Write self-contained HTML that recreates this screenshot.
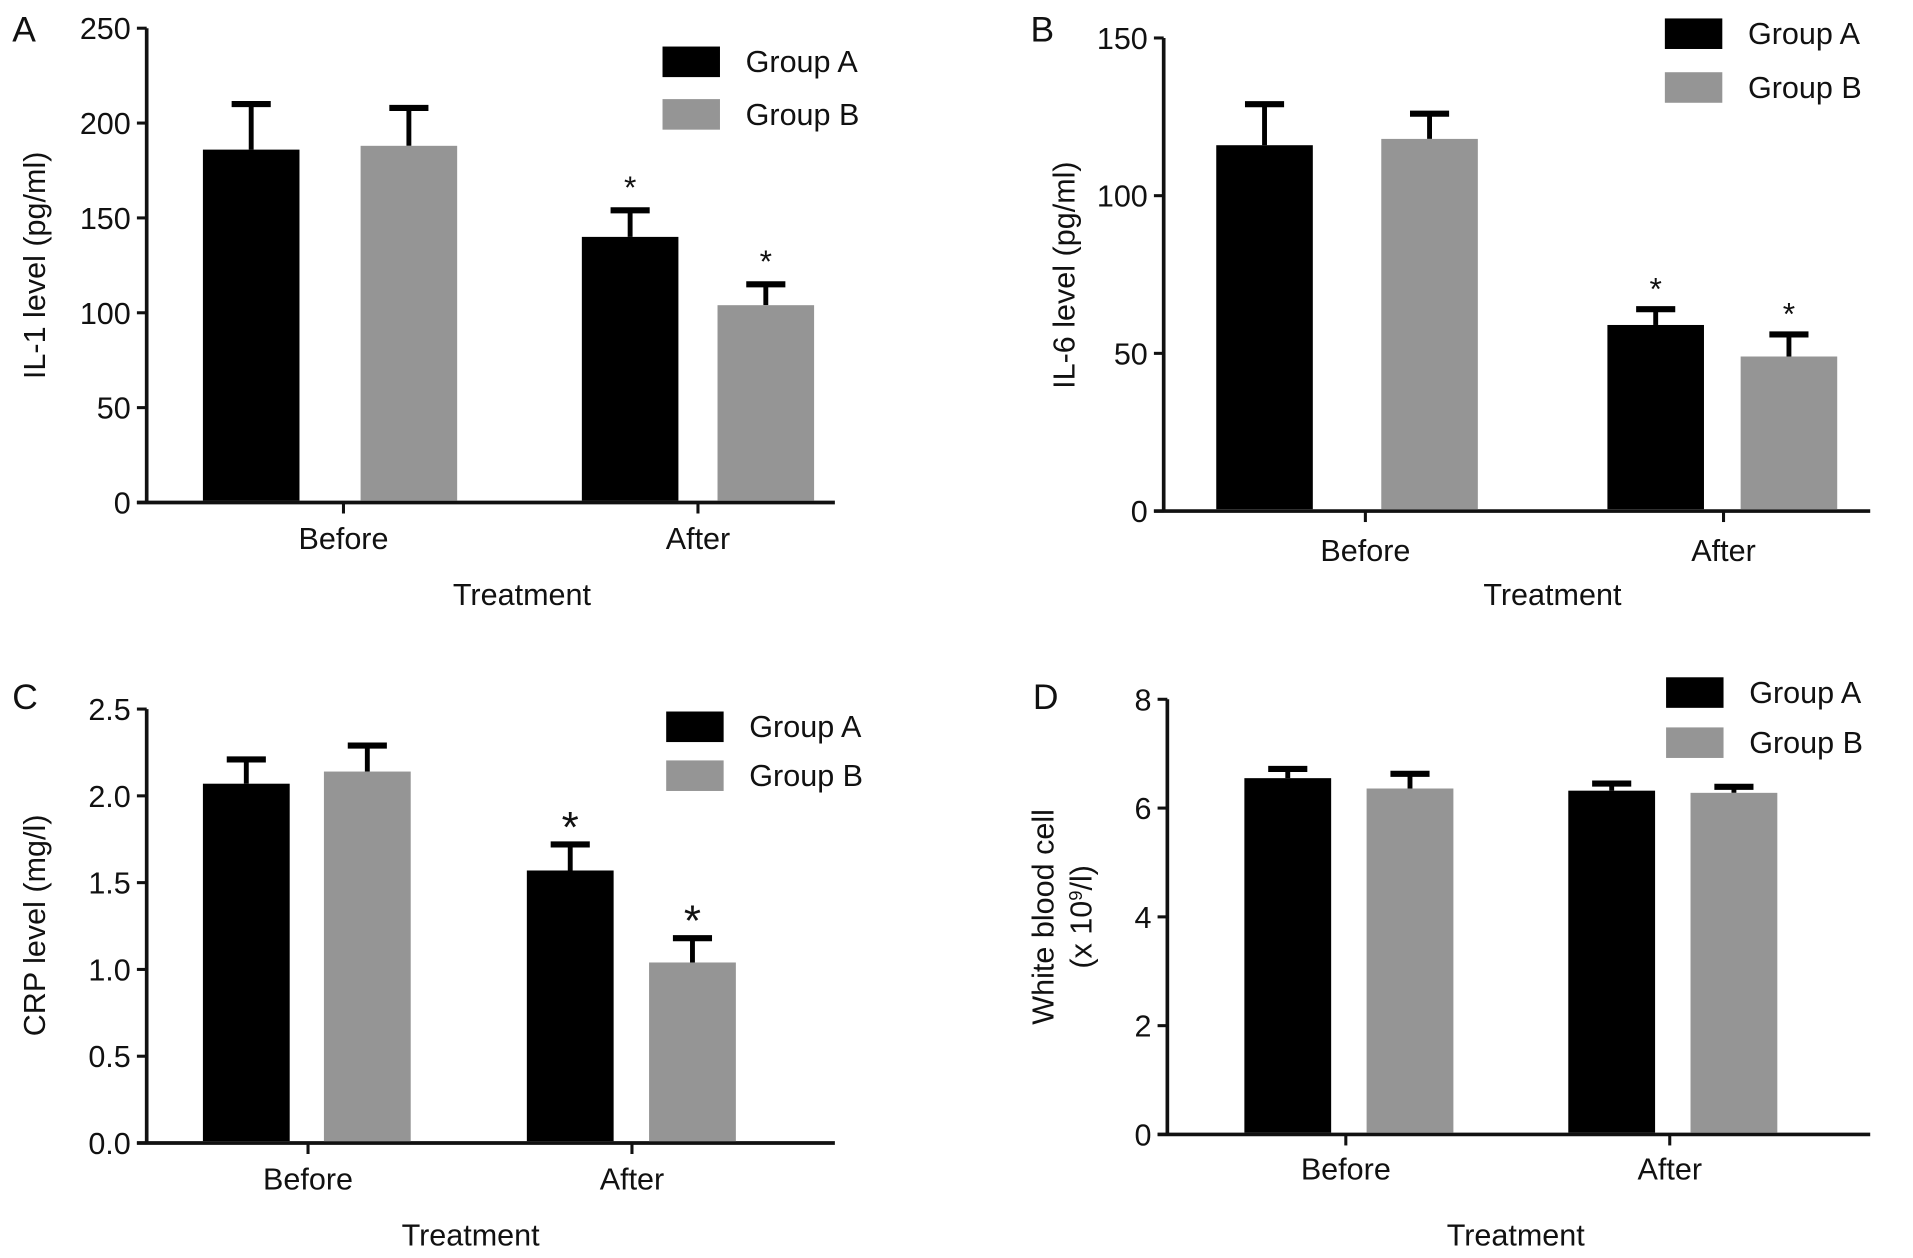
<!DOCTYPE html>
<html><head><meta charset="utf-8">
<style>
html,body{margin:0;padding:0;background:#fff;}
svg{display:block;}
text{font-family:"Liberation Sans",Arial,sans-serif;fill:#111;}
</style></head>
<body>
<svg id="fig" width="1913" height="1258" viewBox="0 0 1565 1029" xmlns="http://www.w3.org/2000/svg"></svg>
<script>
const categories = ["Before", "After"];
const seriesNames = ["Group A", "Group B"];
// Panel A: IL-1
const il1Mean = [[186, 140], [188, 104]];
const il1Err  = [[210, 154], [208, 115]];
const il1Ticks = ["0","50","100","150","200","250"];
// Panel B: IL-6
const il6Mean = [[116, 59], [118, 49]];
const il6Err  = [[129, 64], [126, 56]];
const il6Ticks = ["0","50","100","150"];
// Panel C: CRP
const crpMean = [[2.07, 1.57], [2.14, 1.04]];
const crpErr  = [[2.21, 1.72], [2.29, 1.18]];
const crpTicks = ["0.0","0.5","1.0","1.5","2.0","2.5"];
// Panel D: WBC
const wbcMean = [[6.55, 6.32], [6.36, 6.28]];
const wbcErr  = [[6.72, 6.45], [6.63, 6.39]];
const wbcTicks = ["0","2","4","6","8"];
const stars = [[false,true],[false,true]];
const starsD = [[false,false],[false,false]];

const NS = "http://www.w3.org/2000/svg";
const svg = document.getElementById("fig");
function el(tag, attrs, parent, txt){
  const e = document.createElementNS(NS, tag);
  for (const k in attrs) e.setAttribute(k, attrs[k]);
  if (txt !== undefined) e.textContent = txt;
  (parent || svg).appendChild(e);
  return e;
}
const colors = ["#000000", "#959595"];

function panel(cfg){
  const g = el("g", {});
  
  
  const yMax = parseFloat(cfg.ticks[cfg.ticks.length-1]);
  const y = v => cfg.y0 - (v / yMax) * (cfg.y0 - cfg.yTop);
  const xl = cfg.x0 - 8;
  const ya = el("line", {x1:cfg.x0, y1:cfg.yTop, x2:cfg.x0, y2:cfg.y0, stroke:"#111","stroke-width":3}, g);
  
  
  const xa = el("line", {x1:xl, y1:cfg.y0, x2:cfg.xEnd, y2:cfg.y0, stroke:"#111","stroke-width":3}, g);
  
  
  cfg.ticks.forEach(t => {
    const yy = y(parseFloat(t));
    el("line", {x1:cfg.x0-8, y1:yy, x2:cfg.x0, y2:yy, stroke:"#111","stroke-width":2.5}, g);
    const tl = el("text", {x:cfg.x0-13, y:yy+9, "text-anchor":"end","font-size":25}, g, t);
    
    
  });
  categories.forEach((c, ci) => {
    const cx = cfg.cats[ci];
    el("line", {x1:cx, y1:cfg.y0, x2:cx, y2:cfg.y0+9, stroke:"#111","stroke-width":2.5}, g);
    const cl = el("text", {x:cx, y:cfg.y0+cfg.catDy, "text-anchor":"middle","font-size":25}, g, c);
    
    
    seriesNames.forEach((s, si) => {
      const x1 = cfg.barX[ci][si], w = cfg.barW;
      const v = cfg.mean[si][ci], e = cfg.err[si][ci];
      const mid = x1 + w/2;
      const ln = el("line", {x1:mid, y1:y(e), x2:mid, y2:y(v), stroke:"#000","stroke-width":4}, g);
      
      
      const cap = el("line", {x1:mid-16, y1:y(e), x2:mid+16, y2:y(e), stroke:"#000","stroke-width":5}, g);
      
      
      const r = el("rect", {x:x1, y:y(v), width:w, height:cfg.y0 - y(v) - 1.5, fill:colors[si]}, g);
      
      
      if (cfg.stars[si][ci]) {
        const st = el("text", {x:mid, y:y(e)-cfg.starDy, "text-anchor":"middle","font-size":cfg.starSize}, g, "*");
        
        
      }
    });
  });
  seriesNames.forEach((s, si) => {
    const ly = cfg.legY[si];
    const lr = el("rect", {x:cfg.legX, y:ly-12, width:47, height:25, fill:colors[si]}, g);
    
    
    const lt = el("text", {x:cfg.legX+68, y:ly+9, "font-size":25}, g, s);
    
    
  });
  const pl = el("text", {x:cfg.letter[0], y:cfg.letter[1], "font-size":29}, g, cfg.letterText);
  
  
  const xt = el("text", {x:cfg.xTitle[0], y:cfg.xTitle[1], "text-anchor":"middle","font-size":25}, g, "Treatment");
  
  
  cfg.yTitle.forEach((line, i) => {
    const [tx, ty] = cfg.yTitlePos[i];
    const yt = el("text", {x:tx, y:ty, "text-anchor":"middle","font-size":25, transform:`rotate(-90 ${tx} ${ty})`}, g);
    
    
    yt.innerHTML = line;
  });
}

panel({id:"panel-a-il1", x0:120, yTop:23, y0:411, xEnd:683, ticks:il1Ticks, mean:il1Mean, err:il1Err,
  cats:[281,571], barX:[[166,295],[476,587]], barW:79, catDy:38, stars:stars, starDy:10, starSize:26,
  legX:542, legY:[50,93], letter:[10,34], letterText:"A", xTitle:[427,495],
  yTitle:["IL-1 level (pg/ml)"], yTitlePos:[[37,217]]});
panel({id:"panel-b-il6", x0:952, yTop:31, y0:418, xEnd:1530, ticks:il6Ticks, mean:il6Mean, err:il6Err,
  cats:[1117,1410], barX:[[995,1130],[1315,1424]], barW:79, catDy:41, stars:stars, starDy:8, starSize:26,
  legX:1362, legY:[27,71], letter:[843,34], letterText:"B", xTitle:[1270,495],
  yTitle:["IL-6 level (pg/ml)"], yTitlePos:[[879,225]]});
panel({id:"panel-c-crp", x0:120, yTop:580, y0:935, xEnd:683, ticks:crpTicks, mean:crpMean, err:crpErr,
  cats:[252,517], barX:[[166,265],[431,531]], barW:71, catDy:38, stars:stars, starDy:2, starSize:36,
  legX:545, legY:[594,634], letter:[10,580], letterText:"C", xTitle:[385,1019],
  yTitle:["CRP level (mg/l)"], yTitlePos:[[37,757]]});
panel({id:"panel-d-wbc", x0:955, yTop:572, y0:928, xEnd:1530, ticks:wbcTicks, mean:wbcMean, err:wbcErr,
  cats:[1101,1366], barX:[[1018,1118],[1283,1383]], barW:71, catDy:37, stars:starsD, starDy:8, starSize:26,
  legX:1363, legY:[566,607], letter:[845,580], letterText:"D", xTitle:[1240,1019],
  yTitle:["White blood cell", "(x 10<tspan dy='-8' font-size='15'>9</tspan><tspan dy='8'>/l)</tspan>"],
  yTitlePos:[[862,750],[893,750]]});
</script>
</body></html>
